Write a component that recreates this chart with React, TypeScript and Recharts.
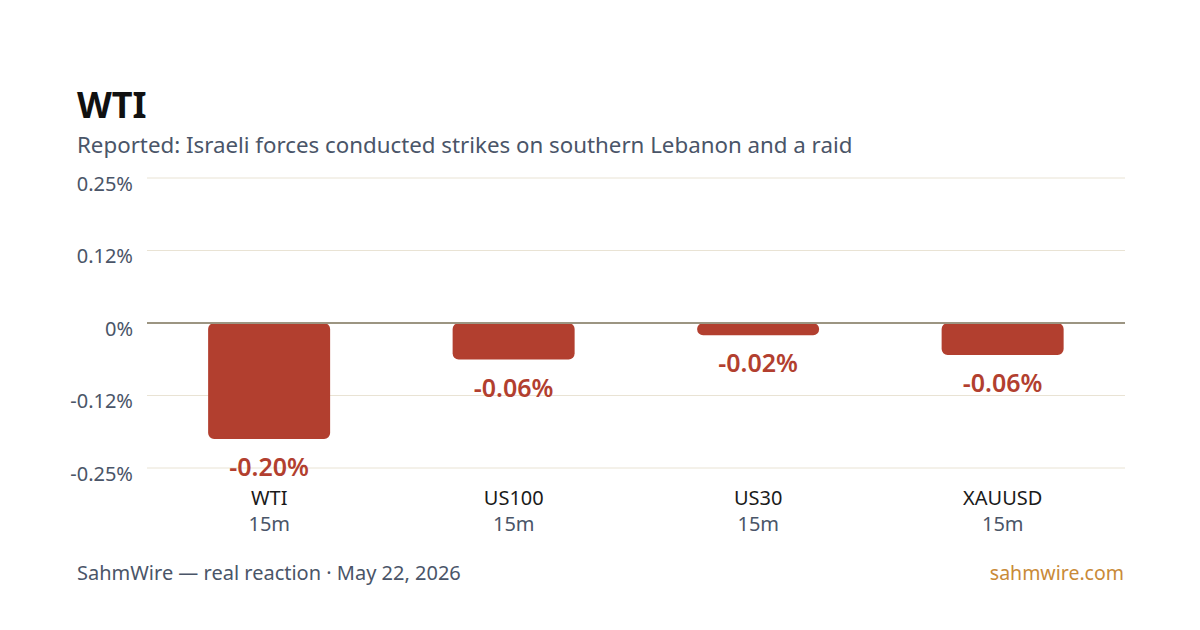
import { BarChart, Bar, XAxis, YAxis, CartesianGrid, ReferenceLine, LabelList } from "recharts";

const symbols = ["WTI", "US100", "US30", "XAUUSD"];
const windows = ["15m", "15m", "15m", "15m"];
const changes = [-0.2, -0.063, -0.021, -0.055];
const changeLabels = ["-0.20%", "-0.06%", "-0.02%", "-0.06%"];
const yTicks = [0.25, 0.125, 0, -0.125, -0.25];
const yTickLabels = ["0.25%", "0.12%", "0%", "-0.12%", "-0.25%"];

const FONT = "'Noto Sans', 'Open Sans', sans-serif";
const SLATE = "#4a5568";
const RED = "#b23f2f";

const data = symbols.map((s, i) => ({
	symbol: s,
	window: windows[i],
	change: changes[i],
	label: changeLabels[i],
}));

function ValueTick(props: any) {
	const { x, y, payload } = props;
	return (
		<text x={x} y={y + 5} textAnchor="end" dominantBaseline="central" fill={SLATE} fontSize={20} fontFamily={FONT}>
			{yTickLabels[yTicks.indexOf(payload.value)]}
		</text>
	);
}

function CategoryTick(props: any) {
	const { x, y, index } = props;
	return (
		<g>
			<text x={x} y={y + 37} textAnchor="middle" fill="#1a1a1a" fontSize={20} fontFamily={FONT}>
				{symbols[index]}
			</text>
			<text x={x} y={y + 63} textAnchor="middle" fill={SLATE} fontSize={20} fontFamily={FONT}>
				{windows[index]}
			</text>
		</g>
	);
}

function ChangeLabel(props: any) {
	const { x, y, width, height, index } = props;
	const bottom = Math.max(y, y + height);
	return (
		<text
			x={x + width / 2}
			y={bottom + 27}
			textAnchor="middle"
			dominantBaseline="central"
			fill={RED}
			fontSize={25}
			fontWeight={600}
			fontFamily={FONT}
		>
			{changeLabels[index]}
		</text>
	);
}

export default function App() {
	return (
		<div style={{ position: "relative", width: 1200, height: 630, margin: -8, background: "#fff", fontFamily: FONT, overflow: "hidden" }}>
			<div style={{ position: "absolute", left: 77, top: 81, fontSize: 36, fontWeight: 700, color: "#111", lineHeight: "48px" }}>
				WTI
			</div>
			<div style={{ position: "absolute", left: 77, top: 130, fontSize: 22.3, color: SLATE, lineHeight: "30px" }}>
				Reported: Israeli forces conducted strikes on southern Lebanon and a raid
			</div>
			<div style={{ position: "absolute", top: 0, left: 0 }}>
				<BarChart
					width={1200}
					height={630}
					data={data}
					margin={{ top: 178, right: 75, bottom: 0, left: 67 }}
					barCategoryGap="25%"
				>
					<CartesianGrid vertical={false} stroke="#e9e3d4" strokeWidth={1} />
					<YAxis
						type="number"
						domain={[-0.25, 0.25]}
						ticks={yTicks}
						width={80}
						axisLine={false}
						tickLine={false}
						tickSize={0}
						tickMargin={14}
						tick={<ValueTick />}
					/>
					<XAxis
						dataKey="symbol"
						height={162}
						axisLine={false}
						tickLine={false}
						tickSize={0}
						tickMargin={0}
						interval={0}
						tick={<CategoryTick />}
					/>
					<ReferenceLine y={0} stroke="#9c9582" strokeWidth={2} />
					<Bar dataKey="change" fill={RED} radius={6} isAnimationActive={false}>
						<LabelList dataKey="label" content={<ChangeLabel />} />
					</Bar>
				</BarChart>
			</div>
			<div style={{ position: "absolute", left: 77, top: 559, fontSize: 20, color: SLATE, lineHeight: "28px" }}>
				SahmWire — real reaction · May 22, 2026
			</div>
			<div style={{ position: "absolute", right: 76, top: 559, fontSize: 19.5, color: "#c98a38", lineHeight: "28px" }}>
				sahmwire.com
			</div>
		</div>
	);
}
